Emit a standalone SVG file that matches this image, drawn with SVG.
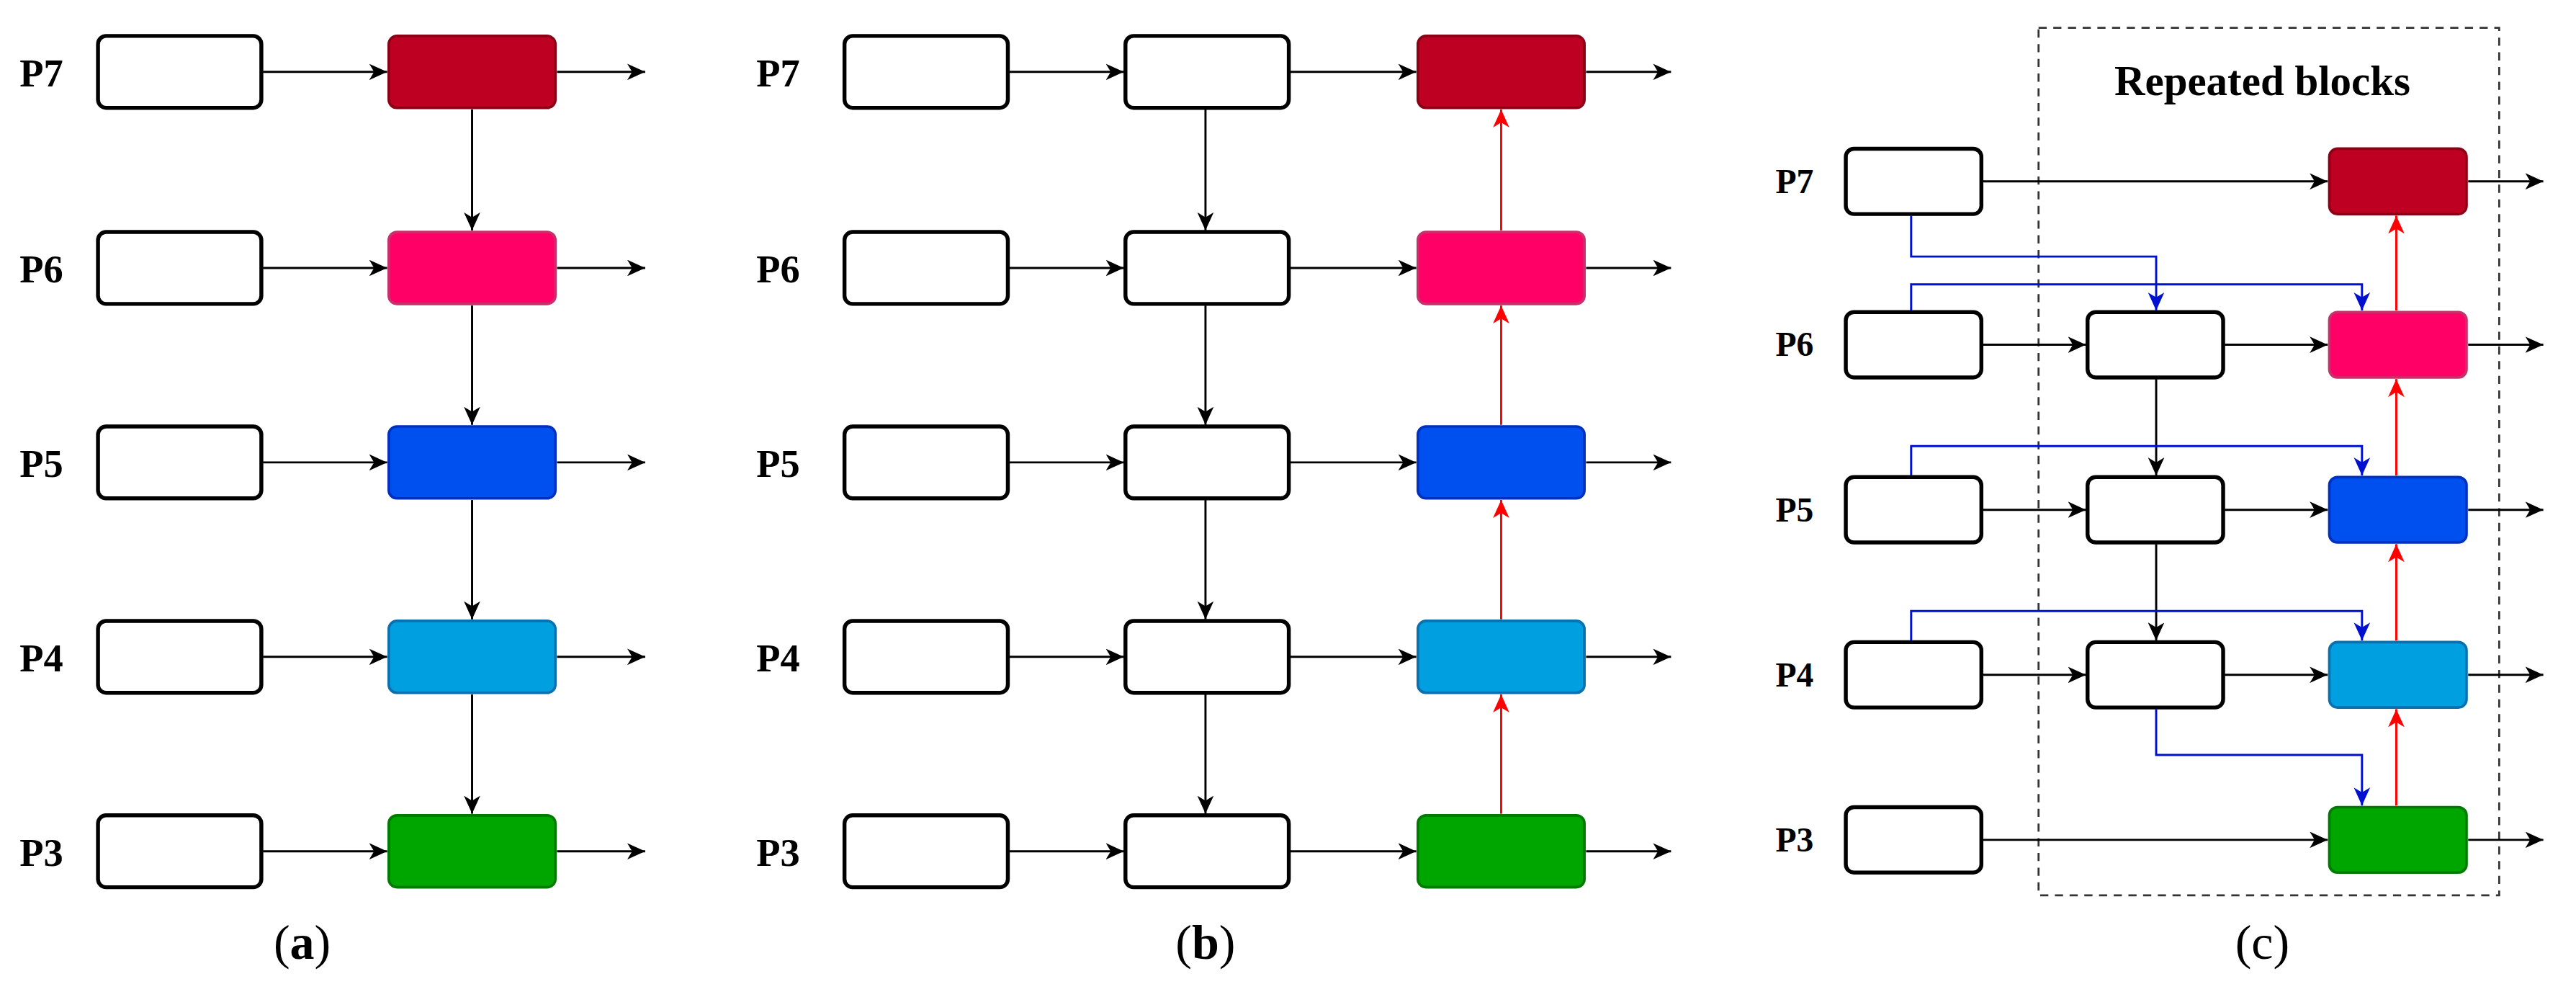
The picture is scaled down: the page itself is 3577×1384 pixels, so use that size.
<svg xmlns="http://www.w3.org/2000/svg" width="3577" height="1384" viewBox="0 0 3577 1384">
<defs>
<style>
.box{fill:#fff;stroke:#000;stroke-width:2.4}
.lbl{font-family:"Liberation Serif","Times New Roman",serif;font-weight:bold;font-size:24px}
.cap{font-family:"Liberation Serif","Times New Roman",serif;font-size:30px}
.k{stroke:#000;stroke-width:1.3;fill:none;marker-end:url(#ak)}
.r{stroke:#ff0000;stroke-width:1.3;fill:none;marker-end:url(#ar)}
.b{stroke:#0010d0;stroke-width:1.3;fill:none;marker-end:url(#ab)}
.c7{fill:#BE0022;stroke:#8B0015;stroke-width:1.6}
.c6{fill:#FF0066;stroke:#C8306A;stroke-width:1.6}
.c5{fill:#0050F0;stroke:#0030C0;stroke-width:1.6}
.c4{fill:#00A0E0;stroke:#0A70B0;stroke-width:1.6}
.c3{fill:#00A600;stroke:#007A00;stroke-width:1.6}
</style>
<marker id="ak" markerUnits="userSpaceOnUse" markerWidth="11" markerHeight="10" viewBox="0 0 11 10" refX="11" refY="5" orient="auto"><path d="M0,0 L11,5 L0,10 L3,5 z" fill="#000"/></marker>
<marker id="ar" markerUnits="userSpaceOnUse" markerWidth="11" markerHeight="10" viewBox="0 0 11 10" refX="11" refY="5" orient="auto"><path d="M0,0 L11,5 L0,10 L3,5 z" fill="#ff0000"/></marker>
<marker id="ab" markerUnits="userSpaceOnUse" markerWidth="11" markerHeight="10" viewBox="0 0 11 10" refX="11" refY="5" orient="auto"><path d="M0,0 L11,5 L0,10 L3,5 z" fill="#0010d0"/></marker>
</defs>
<rect width="3577" height="1384" fill="#fff"/>
<g transform="scale(2.2682)">
<g id="panel-a">
<g id="a-labels" class="lbl"><text x="12" y="53">P7</text><text x="12" y="173">P6</text><text x="12" y="292">P5</text><text x="12" y="411">P4</text><text x="12" y="530">P3</text></g>
<g id="a-in"><rect class="box" x="60" y="22" width="100" height="44" rx="5"/><rect class="box" x="60" y="142" width="100" height="44" rx="5"/><rect class="box" x="60" y="261" width="100" height="44" rx="5"/><rect class="box" x="60" y="380" width="100" height="44" rx="5"/><rect class="box" x="60" y="499" width="100" height="44" rx="5"/></g>
<g id="a-out"><rect class="c7" x="238" y="22" width="102" height="44" rx="5"/><rect class="c6" x="238" y="142" width="102" height="44" rx="5"/><rect class="c5" x="238" y="261" width="102" height="44" rx="5"/><rect class="c4" x="238" y="380" width="102" height="44" rx="5"/><rect class="c3" x="238" y="499" width="102" height="44" rx="5"/></g>
<g id="a-connectors">
<path class="k" d="M161,44H237"/><path class="k" d="M161,164H237"/><path class="k" d="M161,283H237"/><path class="k" d="M161,402H237"/><path class="k" d="M161,521H237"/>
<path class="k" d="M341,44H395"/><path class="k" d="M341,164H395"/><path class="k" d="M341,283H395"/><path class="k" d="M341,402H395"/><path class="k" d="M341,521H395"/>
<path class="k" d="M289,67V141"/><path class="k" d="M289,187V260"/><path class="k" d="M289,306V379"/><path class="k" d="M289,425V498"/>
</g>
<text class="cap" x="185" y="587" text-anchor="middle">(<tspan font-weight="bold">a</tspan>)</text>
</g>
<g id="panel-b">
<g id="b-labels" class="lbl"><text x="463" y="53">P7</text><text x="463" y="173">P6</text><text x="463" y="292">P5</text><text x="463" y="411">P4</text><text x="463" y="530">P3</text></g>
<g id="b-in"><rect class="box" x="517" y="22" width="100" height="44" rx="5"/><rect class="box" x="517" y="142" width="100" height="44" rx="5"/><rect class="box" x="517" y="261" width="100" height="44" rx="5"/><rect class="box" x="517" y="380" width="100" height="44" rx="5"/><rect class="box" x="517" y="499" width="100" height="44" rx="5"/></g>
<g id="b-mid"><rect class="box" x="689" y="22" width="100" height="44" rx="5"/><rect class="box" x="689" y="142" width="100" height="44" rx="5"/><rect class="box" x="689" y="261" width="100" height="44" rx="5"/><rect class="box" x="689" y="380" width="100" height="44" rx="5"/><rect class="box" x="689" y="499" width="100" height="44" rx="5"/></g>
<g id="b-out"><rect class="c7" x="868" y="22" width="102" height="44" rx="5"/><rect class="c6" x="868" y="142" width="102" height="44" rx="5"/><rect class="c5" x="868" y="261" width="102" height="44" rx="5"/><rect class="c4" x="868" y="380" width="102" height="44" rx="5"/><rect class="c3" x="868" y="499" width="102" height="44" rx="5"/></g>
<g id="b-connectors">
<path class="k" d="M618,44H688"/><path class="k" d="M618,164H688"/><path class="k" d="M618,283H688"/><path class="k" d="M618,402H688"/><path class="k" d="M618,521H688"/>
<path class="k" d="M790,44H867"/><path class="k" d="M790,164H867"/><path class="k" d="M790,283H867"/><path class="k" d="M790,402H867"/><path class="k" d="M790,521H867"/>
<path class="k" d="M971,44H1023"/><path class="k" d="M971,164H1023"/><path class="k" d="M971,283H1023"/><path class="k" d="M971,402H1023"/><path class="k" d="M971,521H1023"/>
<path class="k" d="M738,67V141"/><path class="k" d="M738,187V260"/><path class="k" d="M738,306V379"/><path class="k" d="M738,425V498"/>
<path class="r" d="M919,498V425"/><path class="r" d="M919,379V306"/><path class="r" d="M919,260V187"/><path class="r" d="M919,141V67"/>
</g>
<text class="cap" x="738" y="587" text-anchor="middle">(<tspan font-weight="bold">b</tspan>)</text>
</g>
<g id="panel-c">
<rect id="repeated" x="1248" y="17" width="282" height="531" fill="none" stroke="#333" stroke-width="1.2" stroke-dasharray="5,4"/>
<text class="lbl" x="1385" y="58" text-anchor="middle" style="font-size:26px">Repeated blocks</text>
<g id="c-labels" class="lbl" style="font-size:21px"><text x="1087" y="118">P7</text><text x="1087" y="218">P6</text><text x="1087" y="319">P5</text><text x="1087" y="420">P4</text><text x="1087" y="521">P3</text></g>
<g id="c-in"><rect class="box" x="1130" y="91" width="83" height="40" rx="5"/><rect class="box" x="1130" y="191" width="83" height="40" rx="5"/><rect class="box" x="1130" y="292" width="83" height="40" rx="5"/><rect class="box" x="1130" y="393" width="83" height="40" rx="5"/><rect class="box" x="1130" y="494" width="83" height="40" rx="5"/></g>
<g id="c-mid"><rect class="box" x="1278" y="191" width="83" height="40" rx="5"/><rect class="box" x="1278" y="292" width="83" height="40" rx="5"/><rect class="box" x="1278" y="393" width="83" height="40" rx="5"/></g>
<g id="c-out"><rect class="c7" x="1426" y="91" width="84" height="40" rx="5"/><rect class="c6" x="1426" y="191" width="84" height="40" rx="5"/><rect class="c5" x="1426" y="292" width="84" height="40" rx="5"/><rect class="c4" x="1426" y="393" width="84" height="40" rx="5"/><rect class="c3" x="1426" y="494" width="84" height="40" rx="5"/></g>
<g id="c-connectors">
<path class="k" d="M1214,111H1425"/><path class="k" d="M1214,514H1425"/>
<path class="k" d="M1214,211H1277"/><path class="k" d="M1214,312H1277"/><path class="k" d="M1214,413H1277"/>
<path class="k" d="M1362,211H1425"/><path class="k" d="M1362,312H1425"/><path class="k" d="M1362,413H1425"/>
<path class="k" d="M1511,111H1557"/><path class="k" d="M1511,211H1557"/><path class="k" d="M1511,312H1557"/><path class="k" d="M1511,413H1557"/><path class="k" d="M1511,514H1557"/>
<path class="k" d="M1320,232V291"/><path class="k" d="M1320,333V392"/>
<path class="r" d="M1467,493V434"/><path class="r" d="M1467,392V333"/><path class="r" d="M1467,291V232"/><path class="r" d="M1467,190V132"/>
<path class="b" d="M1170,132V157H1320V190"/>
<path class="b" d="M1170,190V174H1446V190"/>
<path class="b" d="M1170,291V273H1446V291"/>
<path class="b" d="M1170,392V374H1446V392"/>
<path class="b" d="M1320,434V462H1446V493"/>
</g>
<text class="cap" x="1385" y="587" text-anchor="middle">(c)</text>
</g>
</g>
</svg>
